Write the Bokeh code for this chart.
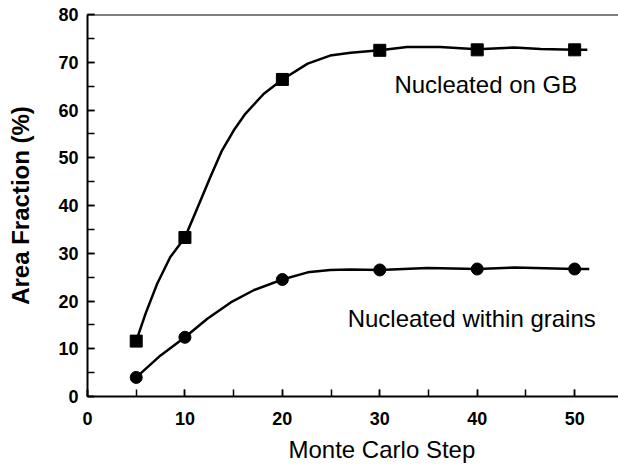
from bokeh.plotting import figure
from bokeh.models import Range1d, SingleIntervalTicker, Span, Label, Title
from bokeh.embed import file_html
from bokeh.resources import INLINE

# Marker data (Monte Carlo step vs area fraction %)
steps = [5, 10, 20, 30, 40, 50]
gb_fraction = [11.6, 33.3, 66.4, 72.5, 72.6, 72.6]
grain_fraction = [4.0, 12.4, 24.5, 26.5, 26.7, 26.7]

# Smooth guide curves, read point-by-point from the picture
gb_curve_x = [5.0, 5.95, 7.15, 8.5, 10.0, 11.3, 12.6, 13.8, 15.0, 16.2, 18.1, 20.0,
              22.6, 24.9, 27.0, 30.0, 32.8, 36.2, 40.0, 43.8, 46.5, 50.0, 51.3]
gb_curve_y = [11.6, 17.3, 23.6, 29.2, 33.3, 39.6, 45.9, 51.5, 55.7, 59.2, 63.4, 66.4,
              69.7, 71.4, 72.0, 72.5, 73.2, 73.2, 72.7, 73.1, 72.8, 72.6, 72.6]
grain_curve_x = [5.0, 7.5, 10.0, 12.3, 14.7, 17.1, 20.0, 22.6, 24.9, 27.0, 30.0, 34.9,
                 40.0, 43.8, 50.0, 51.5]
grain_curve_y = [4.0, 8.6, 12.4, 16.3, 19.7, 22.3, 24.5, 26.0, 26.5, 26.6, 26.5, 26.9,
                 26.7, 27.0, 26.7, 26.7]

label_gb = "Nucleated on GB"
label_grains = "Nucleated within grains"
x_title = "Monte Carlo Step"
y_title = "Area Fraction (%)"

FONT = "Liberation Sans"

p = figure(width=618, height=469, output_backend="svg", toolbar_location=None,
           x_range=Range1d(0, 54.5), y_range=Range1d(0, 80),
           min_border_left=87, min_border_top=14, min_border_right=0, min_border_bottom=73)
p.outline_line_color = None
p.background_fill_color = "white"
p.border_fill_color = "white"
p.xgrid.visible = False
p.ygrid.visible = False

for ax in (p.xaxis[0], p.yaxis[0]):
    ax.ticker = SingleIntervalTicker(interval=10, num_minor_ticks=2)
    ax.axis_line_width = 2
    ax.axis_line_color = "black"
    ax.major_tick_in = 7
    ax.major_tick_out = 0
    ax.minor_tick_in = 7
    ax.minor_tick_out = 0
    ax.major_tick_line_width = 1.5
    ax.minor_tick_line_width = 1.5
    ax.major_tick_line_color = "black"
    ax.minor_tick_line_color = "black"
    ax.major_label_text_font = FONT
    ax.major_label_text_font_size = "18px"
    ax.major_label_text_font_style = "bold"
    ax.major_label_text_color = "black"

p.xaxis.major_label_standoff = 15
p.yaxis.major_label_standoff = 9
p.yaxis.axis_label = y_title
p.yaxis.axis_label_text_font = FONT
p.yaxis.axis_label_text_font_size = "24px"
p.yaxis.axis_label_text_font_style = "bold"
p.yaxis.axis_label_text_color = "black"
p.yaxis.axis_label_standoff = 21

p.add_layout(Span(location=80, dimension="width", line_color="black", line_width=2))

p.line(gb_curve_x, gb_curve_y, line_color="black", line_width=2.5, line_join="round")
p.line(grain_curve_x, grain_curve_y, line_color="black", line_width=2.5, line_join="round")
p.scatter(steps, gb_fraction, marker="square", size=12, fill_color="black", line_color="black")
p.scatter(steps, grain_fraction, marker="circle", size=12, fill_color="black", line_color="black")

p.add_layout(Label(x=31.5, y=65.3, text=label_gb, text_font=FONT, text_font_size="24px",
                   text_baseline="alphabetic", text_color="black"))
p.add_layout(Label(x=26.7, y=16.4, text=label_grains, text_font=FONT, text_font_size="24px",
                   text_baseline="alphabetic", text_color="black"))

p.add_layout(Title(text=x_title, align="left", offset=201, text_font=FONT,
                   text_font_size="24px", text_font_style="normal", standoff=13,
                   text_color="black"), "below")

open("out.html", "w").write(file_html(p, INLINE))
